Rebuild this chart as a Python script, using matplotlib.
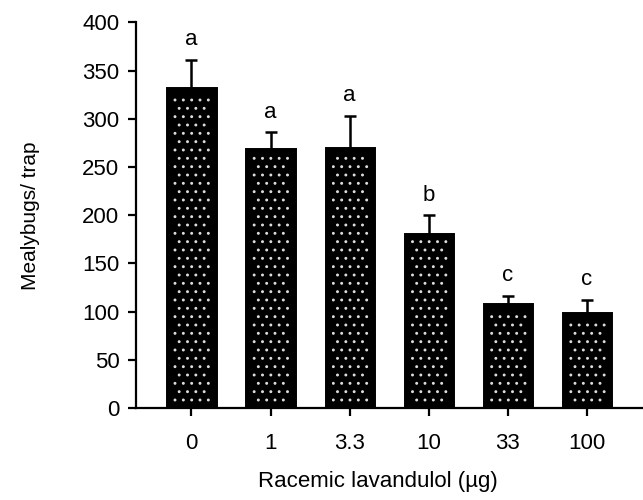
import matplotlib
matplotlib.use("Agg")
import matplotlib.pyplot as plt
import numpy as np

# data
doses = ["0", "1", "3.3", "10", "33", "100"]
means = [330, 267, 268, 178, 106, 97]
errors = [31, 19, 35, 22, 10, 15]
letters = ["a", "a", "a", "b", "c", "c"]

plt.rcParams["font.family"] = ["Liberation Sans", "DejaVu Sans"]
plt.rcParams["hatch.linewidth"] = 0.9

fig = plt.figure(figsize=(6.43, 5.0), dpi=100)
ax = fig.add_axes([0.2115, 0.184, 0.80, 0.771])

fs = 16
x = np.arange(len(doses))
# speckled black bars
ax.bar(x, means, width=0.56, color="black", edgecolor="#dddddd", hatch="..",
       linewidth=0, zorder=2)
ax.bar(x, means, width=0.56, color="none", edgecolor="black", linewidth=5, zorder=3)
ax.errorbar(x, means, yerr=[np.zeros(len(errors)), errors], fmt="none",
            ecolor="black", elinewidth=1.8, capsize=4, capthick=1.8, zorder=1)

for xi, m, e, l in zip(x, means, errors, letters):
    ax.text(xi, m + e + 21, l, ha="center", va="center", fontsize=fs)

ax.set_xlim(-0.7, 5.8)
ax.set_ylim(0, 400)
ax.set_yticks(np.arange(0, 401, 50))
ax.set_xticks(x)
ax.set_xticklabels(doses)
ax.spines["top"].set_visible(False)
ax.spines["right"].set_visible(False)
ax.spines["left"].set_linewidth(1.6)
ax.spines["bottom"].set_linewidth(1.6)
ax.tick_params(axis="y", direction="out", length=6, width=1.6, pad=6, labelsize=fs)
ax.tick_params(axis="x", direction="out", length=6, width=1.6, pad=12, labelsize=fs)

fig.text(0.588, 0.036, "Racemic lavandulol (µg)", ha="center", va="center", fontsize=fs)
ax.set_ylabel("Mealybugs/ trap", fontsize=15, labelpad=30)

fig.savefig("out.png", dpi=100)
